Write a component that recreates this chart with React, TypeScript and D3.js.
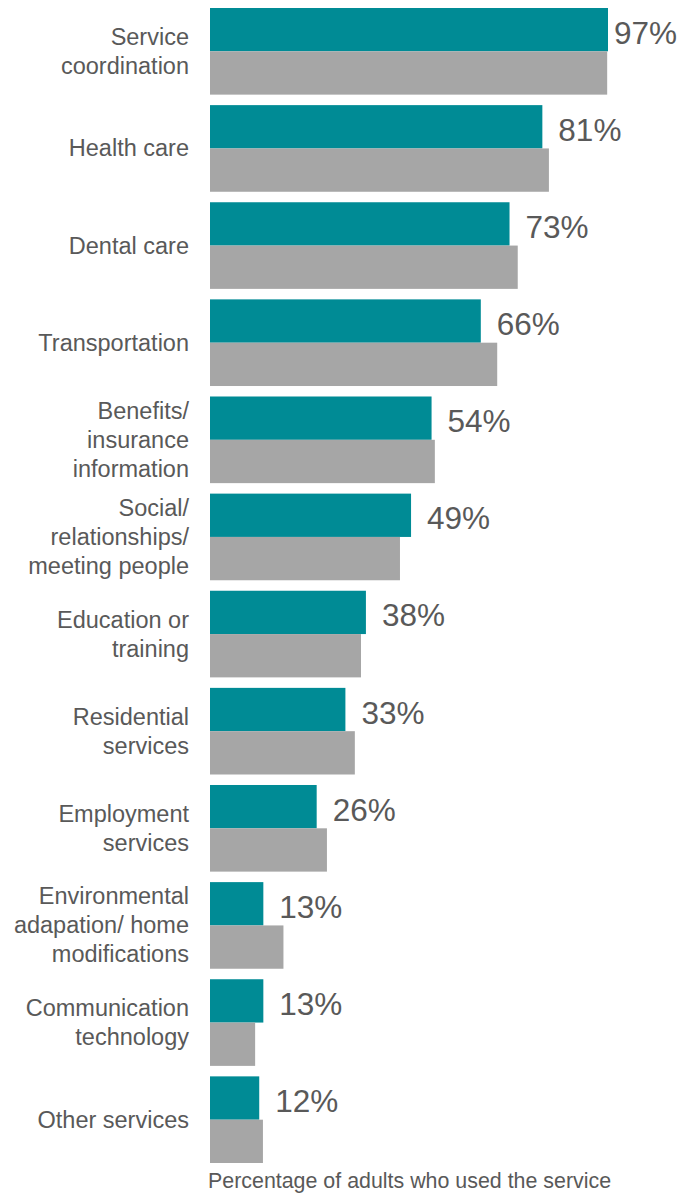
import React from "react";
import * as d3 from "d3";

const categories: string[][] = [
  ["Service", "coordination"],
  ["Health care"],
  ["Dental care"],
  ["Transportation"],
  ["Benefits/", "insurance", "information"],
  ["Social/", "relationships/", "meeting people"],
  ["Education or", "training"],
  ["Residential", "services"],
  ["Employment", "services"],
  ["Environmental", "adapation/ home", "modifications"],
  ["Communication", "technology"],
  ["Other services"],
];
const tealValues = [97, 81, 73, 66, 54, 49, 38, 33, 26, 13, 13, 12];
const grayValues = [96.8, 82.6, 75, 70, 54.8, 46.3, 36.8, 35.3, 28.5, 17.9, 11, 12.9];
const axisTitle = "Percentage of adults who used the service";

const W = 678;
const H = 1194;
const TEAL = "#008B95";
const GRAY = "#A6A6A6";
const TEXT = "#595959";
const FONT = "'Liberation Sans', Arial, sans-serif";

export default function App() {
  const keys = categories.map((c) => c.join(" "));
  const x = d3.scaleLinear().domain([0, 97]).range([210, 608]);
  const y = d3.scaleBand<string>().domain(keys).range([8, 1163]).paddingInner(0.108).paddingOuter(0);
  const bh = y.bandwidth() / 2;
  const lineH = 29;

  return (
    <svg width={W} height={H} style={{ position: "absolute", left: 0, top: 0 }} fontFamily={FONT}>
      {keys.map((k, i) => {
        const y0 = y(k) as number;
        const tealEnd = x(tealValues[i]);
        const label = `${tealValues[i]}%`;
        const estW = 63;
        let lx = tealEnd + 16;
        let anchor: "start" | "end" = "start";
        if (lx + estW > W - 2) {
          lx = W - 1;
          anchor = "end";
        }
        const lines = categories[i];
        const cy = y0 + bh;
        return (
          <g key={k}>
            <rect x={x(0)} y={y0} width={tealEnd - x(0)} height={bh} fill={TEAL} />
            <rect x={x(0)} y={y0 + bh} width={x(grayValues[i]) - x(0)} height={bh} fill={GRAY} />
            <text x={lx} y={y0 + bh / 2 + 14} fontSize={31.5} fill={TEXT} textAnchor={anchor}>
              {label}
            </text>
            {lines.map((ln, j) => (
              <text
                key={j}
                x={189}
                y={cy + (j - (lines.length - 1) / 2) * lineH + 8}
                fontSize={23.5}
                fill={TEXT}
                textAnchor="end"
              >
                {ln}
              </text>
            ))}
          </g>
        );
      })}
      <text x={208} y={1188} fontSize={21.4} fill={TEXT}>
        {axisTitle}
      </text>
    </svg>
  );
}
